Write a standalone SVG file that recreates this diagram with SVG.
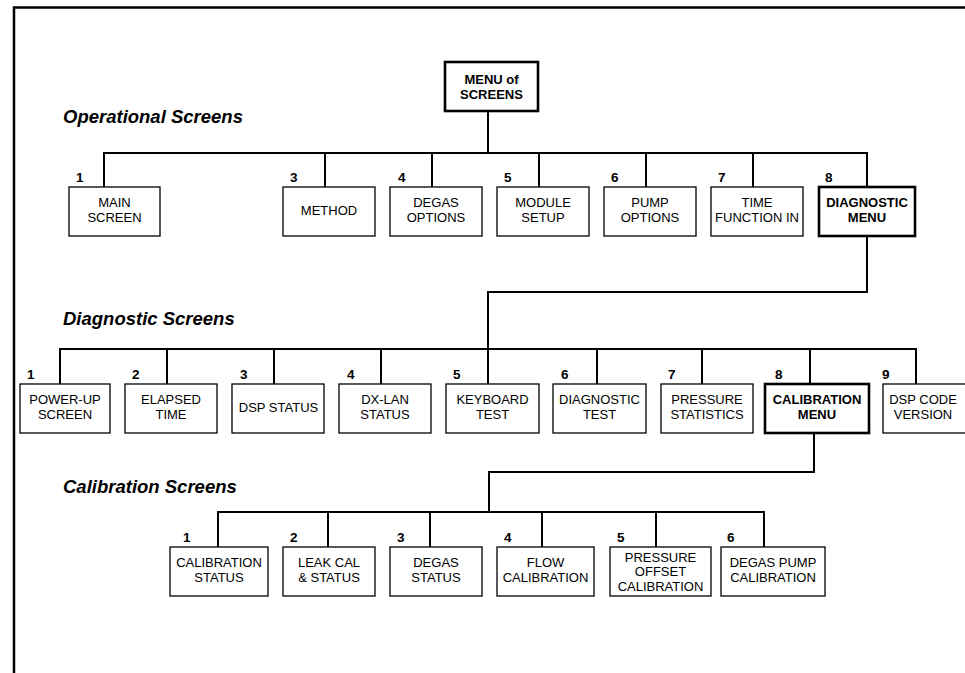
<svg xmlns="http://www.w3.org/2000/svg" width="965" height="673" viewBox="0 0 965 673">
<style>
text{font-family:"Liberation Sans",Arial,Helvetica,sans-serif;fill:#000}
.t{font-size:13px;text-anchor:middle}
.tb{font-size:13px;text-anchor:middle;font-weight:bold}
.n{font-size:13.5px;font-weight:bold}
.h{font-size:18.5px;font-weight:bold;font-style:italic}
.box{fill:#fff;stroke:#000;stroke-width:1.3}
.tbox{fill:#fff;stroke:#000;stroke-width:2.6}
.c{fill:none;stroke:#000;stroke-width:2;stroke-linejoin:miter;stroke-linecap:square}
.frame{fill:none;stroke:#000;stroke-width:2.5}
</style>
<rect width="965" height="673" fill="#fff"/>
<path class="frame" d="M14,673 V7.5 H966"/>

<text class="h" x="63" y="123">Operational Screens</text>
<text class="h" x="63" y="325">Diagnostic Screens</text>
<text class="h" x="63" y="493">Calibration Screens</text>

<g id="connectors">
<path class="c" d="M488,111 V153"/>
<path class="c" d="M104,187 V153 H867 V187"/>
<path class="c" d="M325,153 V187 M432,153 V187 M539,153 V187 M646,153 V187 M753,153 V187"/>
<path class="c" d="M867,236 V292 H488 V349"/>
<path class="c" d="M60,384 V349 H916 V384"/>
<path class="c" d="M167,349 V384 M274,349 V384 M381,349 V384 M488,349 V384 M597,349 V384 M702,349 V384 M810,349 V384"/>
<path class="c" d="M814,433 V472 H489 V512"/>
<path class="c" d="M218,547 V512 H764 V547"/>
<path class="c" d="M328,512 V547 M430,512 V547 M542,512 V547 M656,512 V547"/>
</g>

<g id="menu">
<rect class="tbox" x="445" y="62" width="93" height="49"/>
<text class="tb" x="491.5" y="84">MENU of</text>
<text class="tb" x="491.5" y="99">SCREENS</text>
</g>

<g id="op1">
<text class="n" x="76" y="182">1</text>
<rect class="box" x="69" y="187" width="91" height="49"/>
<text class="t" x="114.5" y="207">MAIN</text>
<text class="t" x="114.5" y="222">SCREEN</text>
</g>
<g id="op3">
<text class="n" x="290" y="182">3</text>
<rect class="box" x="283" y="187" width="92" height="49"/>
<text class="t" x="329" y="215">METHOD</text>
</g>
<g id="op4">
<text class="n" x="398" y="182">4</text>
<rect class="box" x="390" y="187" width="92" height="49"/>
<text class="t" x="436" y="207">DEGAS</text>
<text class="t" x="436" y="222">OPTIONS</text>
</g>
<g id="op5">
<text class="n" x="504" y="182">5</text>
<rect class="box" x="497" y="187" width="92" height="49"/>
<text class="t" x="543" y="207">MODULE</text>
<text class="t" x="543" y="222">SETUP</text>
</g>
<g id="op6">
<text class="n" x="611" y="182">6</text>
<rect class="box" x="604" y="187" width="92" height="49"/>
<text class="t" x="650" y="207">PUMP</text>
<text class="t" x="650" y="222">OPTIONS</text>
</g>
<g id="op7">
<text class="n" x="718" y="182">7</text>
<rect class="box" x="711" y="187" width="92" height="49"/>
<text class="t" x="757" y="207">TIME</text>
<text class="t" x="757" y="222">FUNCTION IN</text>
</g>
<g id="op8">
<text class="n" x="825" y="182">8</text>
<rect class="tbox" x="819" y="187" width="96" height="49"/>
<text class="tb" x="867" y="207">DIAGNOSTIC</text>
<text class="tb" x="867" y="222">MENU</text>
</g>

<g id="d1">
<text class="n" x="27" y="379">1</text>
<rect class="box" x="20" y="384" width="90" height="49"/>
<text class="t" x="65" y="404">POWER-UP</text>
<text class="t" x="65" y="419">SCREEN</text>
</g>
<g id="d2">
<text class="n" x="132" y="379">2</text>
<rect class="box" x="125" y="384" width="92" height="49"/>
<text class="t" x="171" y="404">ELAPSED</text>
<text class="t" x="171" y="419">TIME</text>
</g>
<g id="d3">
<text class="n" x="240" y="379">3</text>
<rect class="box" x="232" y="384" width="92" height="49"/>
<text class="t" x="278.5" y="412">DSP STATUS</text>
</g>
<g id="d4">
<text class="n" x="347" y="379">4</text>
<rect class="box" x="339" y="384" width="92" height="49"/>
<text class="t" x="385" y="404">DX-LAN</text>
<text class="t" x="385" y="419">STATUS</text>
</g>
<g id="d5">
<text class="n" x="453" y="379">5</text>
<rect class="box" x="446" y="384" width="93" height="49"/>
<text class="t" x="492.5" y="404">KEYBOARD</text>
<text class="t" x="492.5" y="419">TEST</text>
</g>
<g id="d6">
<text class="n" x="561" y="379">6</text>
<rect class="box" x="553" y="384" width="93" height="49"/>
<text class="t" x="599.5" y="404">DIAGNOSTIC</text>
<text class="t" x="599.5" y="419">TEST</text>
</g>
<g id="d7">
<text class="n" x="668" y="379">7</text>
<rect class="box" x="661" y="384" width="92" height="49"/>
<text class="t" x="707" y="404">PRESSURE</text>
<text class="t" x="707" y="419">STATISTICS</text>
</g>
<g id="d8">
<text class="n" x="775" y="379">8</text>
<rect class="tbox" x="765" y="384" width="104" height="49"/>
<text class="tb" x="817" y="404">CALIBRATION</text>
<text class="tb" x="817" y="419">MENU</text>
</g>
<g id="d9">
<text class="n" x="882" y="379">9</text>
<rect class="box" x="883" y="384" width="92" height="49"/>
<text class="t" x="923" y="404">DSP CODE</text>
<text class="t" x="923" y="419">VERSION</text>
</g>

<g id="c1">
<text class="n" x="183" y="542">1</text>
<rect class="box" x="170" y="547" width="98" height="49"/>
<text class="t" x="219" y="567">CALIBRATION</text>
<text class="t" x="219" y="582">STATUS</text>
</g>
<g id="c2">
<text class="n" x="290" y="542">2</text>
<rect class="box" x="283" y="547" width="92" height="49"/>
<text class="t" x="329" y="567">LEAK CAL</text>
<text class="t" x="329" y="582">&amp; STATUS</text>
</g>
<g id="c3">
<text class="n" x="397" y="542">3</text>
<rect class="box" x="390" y="547" width="92" height="49"/>
<text class="t" x="436" y="567">DEGAS</text>
<text class="t" x="436" y="582">STATUS</text>
</g>
<g id="c4">
<text class="n" x="504" y="542">4</text>
<rect class="box" x="497" y="547" width="97" height="49"/>
<text class="t" x="545.5" y="567">FLOW</text>
<text class="t" x="545.5" y="582">CALIBRATION</text>
</g>
<g id="c5">
<text class="n" x="617" y="542">5</text>
<rect class="box" x="610" y="547" width="101" height="49"/>
<text class="t" x="660.5" y="561.5">PRESSURE</text>
<text class="t" x="660.5" y="576">OFFSET</text>
<text class="t" x="660.5" y="590.5">CALIBRATION</text>
</g>
<g id="c6">
<text class="n" x="727" y="542">6</text>
<rect class="box" x="721" y="547" width="104" height="49"/>
<text class="t" x="773" y="567">DEGAS PUMP</text>
<text class="t" x="773" y="582">CALIBRATION</text>
</g>
</svg>
